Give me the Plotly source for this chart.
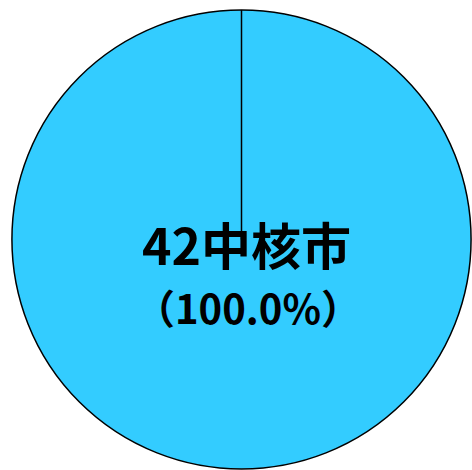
import plotly.graph_objects as go

labels = ["42中核市"]
values = [42]
percent_labels = ["（100.0%）"]

W, H = 472, 470
x0, x1 = 12 / W, 471 / W
y0, y1 = 1 - 469 / H, 1 - 10 / H

fig = go.Figure(go.Pie(
    labels=labels,
    values=values,
    sort=False,
    direction="clockwise",
    rotation=0,
    textinfo="none",
    hoverinfo="none",
    marker=dict(colors=["#33CCFF"], line=dict(color="black", width=1.5)),
    domain=dict(x=[x0, x1], y=[y0, y1]),
    showlegend=False,
))

cx = (x0 + x1) / 2
cy = (y0 + y1) / 2
# slice boundary from centre to top (start angle)
fig.add_shape(type="line", xref="paper", yref="paper",
              x0=cx, y0=cy, x1=cx, y1=y1,
              line=dict(color="black", width=1.5))

font_family = "Noto Sans CJK JP"
fig.add_annotation(text="<b>" + labels[0] + "</b>", xref="paper", yref="paper",
                   x=246 / W, y=1 - 243 / H, showarrow=False,
                   font=dict(family=font_family, size=50, color="black"))
fig.add_annotation(text="<b>" + percent_labels[0] + "</b>", xref="paper", yref="paper",
                   x=248 / W, y=1 - 307 / H, showarrow=False,
                   font=dict(family=font_family, size=40, color="black"))

fig.update_layout(width=W, height=H, margin=dict(l=0, r=0, t=0, b=0),
                  paper_bgcolor="white", plot_bgcolor="white")
fig.write_html("out.html", config={"displayModeBar": False},
               post_script="document.body.style.margin='0';document.body.style.overflow='hidden';")
